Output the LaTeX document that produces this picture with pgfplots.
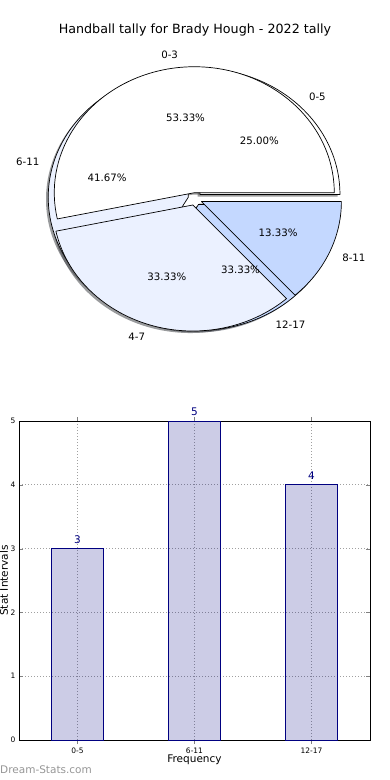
\documentclass[border=0pt]{standalone}
\usepackage{fontspec}
\setmainfont{DejaVu Sans}
\usepackage{pgfplots}
\pgfplotsset{compat=1.18}
\definecolor{wA}{RGB}{255,255,255}
\definecolor{wB}{RGB}{235,241,255}
\definecolor{wC}{RGB}{196,216,255}
\definecolor{navyc}{RGB}{0,0,128}
\definecolor{wmark}{RGB}{150,150,150}
\definecolor{gridc}{RGB}{160,160,160}
% #1 start angle, #2 end angle, #3 colour
\newcommand{\pieshadow}[3]{%
  \fill[#3!30!black, opacity=0.55]
   (axis cs:{0.05*cos((#1+#2)/2)-0.016},{0.05*sin((#1+#2)/2)-0.016})
   -- (axis cs:{0.05*cos((#1+#2)/2)-0.016+cos(#1)},{0.05*sin((#1+#2)/2)-0.016+sin(#1)})
   arc[start angle=#1,end angle=#2,x radius=140pt,y radius=126pt] -- cycle;}
\newcommand{\pieslice}[3]{%
  \filldraw[fill=#3, draw=black, line width=0.7pt, line join=round]
   (axis cs:{0.05*cos((#1+#2)/2)},{0.05*sin((#1+#2)/2)})
   -- (axis cs:{0.05*cos((#1+#2)/2)+cos(#1)},{0.05*sin((#1+#2)/2)+sin(#1)})
   arc[start angle=#1,end angle=#2,x radius=140pt,y radius=126pt] -- cycle;}
% #1 start, #2 end, #3 label, #4 anchor, #5 pct
\newcommand{\pietext}[5]{%
  \node[anchor=#4, inner sep=0pt, font=\fontsize{10.2}{12}\selectfont]
   at (axis cs:{1.15*cos((#1+#2)/2)},{1.15*sin((#1+#2)/2)}) {#3};
  \node[inner sep=0pt, font=\fontsize{10.2}{12}\selectfont]
   at (axis cs:{0.65*cos((#1+#2)/2)},{0.65*sin((#1+#2)/2)}) {#5};}
\begin{document}
\begin{tikzpicture}
\path[use as bounding box] (0,0) rectangle (390pt,780pt);
% ---------- pie chart ----------
% series 1: 0-5 = 3, 6-11 = 5, 12-17 = 4  (total 12)
% series 2: 0-3 = 8, 4-7 = 5, 8-11 = 2   (total 15)
\begin{axis}[at={(195pt,581pt)}, anchor=center, x=140pt, y=126pt,
  xmin=-1.5, xmax=1.5, ymin=-1.5, ymax=1.5, hide axis, clip=false]
\addplot[draw=none] coordinates {(0,0)};
% shadows (drawn below all wedges)
\pieshadow{0}{90}{wA}
\pieshadow{90}{240}{wB}
\pieshadow{240}{360}{wC}
\pieshadow{0}{192}{wA}
\pieshadow{192}{312}{wB}
\pieshadow{312}{360}{wC}
% first pie
\pieslice{0}{90}{wA}
\pieslice{90}{240}{wB}
\pieslice{240}{360}{wC}
% second pie
\pieslice{0}{192}{wA}
\pieslice{192}{312}{wB}
\pieslice{312}{360}{wC}
% texts
\pietext{0}{90}{0-5}{west}{25.00\%}
\pietext{90}{240}{6-11}{east}{41.67\%}
\pietext{240}{360}{12-17}{west}{33.33\%}
\pietext{0}{192}{0-3}{east}{53.33\%}
\pietext{192}{312}{4-7}{east}{33.33\%}
\pietext{312}{360}{8-11}{west}{13.33\%}
\node[font=\fontsize{12.7}{15}\selectfont] at (axis cs:0,1.341) {Handball tally for Brady Hough - 2022 tally};
\end{axis}
% ---------- bar chart ----------
\begin{axis}[at={(19pt,40pt)}, anchor=south west, scale only axis,
  width=351pt, height=319pt,
  xmin=-0.5, xmax=2.5, ymin=0, ymax=5,
  xtick={0,1,2}, xticklabels={0-5,6-11,12-17},
  ytick={0,1,2,3,4,5},
  xtick pos=both, ytick pos=both, tick align=inside,
  major tick length=4pt,
  grid=major, grid style={dash pattern=on 1pt off 2pt, gridc, line width=0.8pt},
  clip=false,
  axis line style={line width=0.9pt},
  /pgf/number format/assume math mode=true,
  tick label style={font=\fontsize{7.5}{9}\selectfont},
  xlabel={Frequency}, ylabel={Stat Intervals},
  label style={font=\fontsize{10.5}{12}\selectfont},
  x label style={at={(axis description cs:0.5,-0.063)}, anchor=center},
  y label style={at={(axis description cs:-0.043,0.5)}, anchor=center},
  ybar, bar width=0.44,
]
\addplot[fill=navyc, fill opacity=0.2, draw=navyc, draw opacity=1, line width=0.8pt,
  nodes near coords,
  every node near coord/.append style={text=navyc, text opacity=1, fill opacity=1, font=\fontsize{10.5}{12}\selectfont, inner sep=2pt, yshift=2.5pt}]
  coordinates {(0,3) (1,5) (2,4)};
\end{axis}
\node[anchor=west, inner sep=0pt, text=wmark, font=\fontsize{10.5}{12}\selectfont] at (0pt,10pt) {Dream-Stats.com};
\end{tikzpicture}
\end{document}
